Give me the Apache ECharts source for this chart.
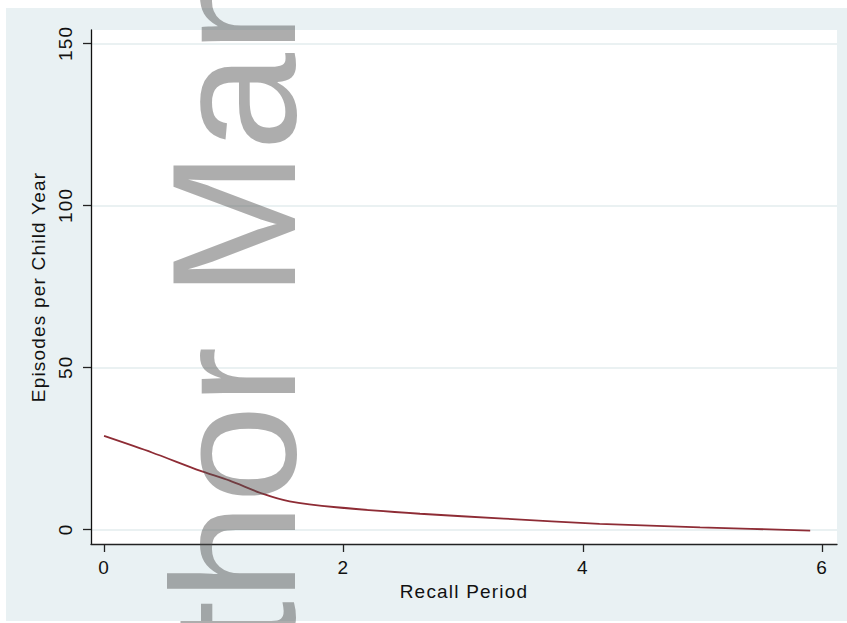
<!DOCTYPE html>
<html>
<head>
<meta charset="utf-8">
<script src="https://cdn.jsdelivr.net/npm/echarts@6/dist/echarts.min.js"></script>
<style>
  html, body { margin: 0; padding: 0; background: #ffffff; }
  #chart { position: absolute; left: 0; top: 0; width: 847px; height: 623px; }
  #chart text { letter-spacing: 1.2px; }
</style>
</head>
<body>
<div id="chart"></div>
<script>
// Recall period (x) and episodes per child year (y)
const recallPeriod = [0, 0.4, 0.8, 1.05, 1.33, 1.55, 1.94, 2.64, 3.34, 4.14, 4.98, 5.9];
const episodesPerChildYear = [28.8, 23.7, 18.1, 15.0, 10.9, 8.6, 6.8, 4.8, 3.3, 1.7, 0.6, -0.4];

const xTicks = [0, 2, 4, 6];
const yTicks = [0, 50, 100, 150];

const xTitle = 'Recall Period';
const yTitle = 'Episodes per Child Year';
const watermark = 'Author Manuscript';

const axisFont = "'Liberation Sans', Arial, sans-serif";
const bg = '#E9F1F3';
const gridColor = '#E3ECEE';

const chart = echarts.init(document.getElementById('chart'), null, { renderer: 'svg' });

chart.setOption({
  animation: false,
  backgroundColor: '#ffffff',
  graphic: [
    {
      type: 'rect',
      z: -10,
      silent: true,
      shape: { x: 6, y: 8, width: 841, height: 613 },
      style: { fill: bg }
    },
    {
      type: 'rect',
      z: -9,
      silent: true,
      shape: { x: 91, y: 30, width: 746, height: 514 },
      style: { fill: '#ffffff' }
    },
    {
      type: 'text',
      z: 100,
      silent: true,
      x: 234,
      y: 151,
      rotation: Math.PI / 2,
      style: {
        text: watermark,
        font: "176px 'Liberation Sans', Arial, sans-serif",
        fill: 'rgba(80,80,80,0.47)',
        align: 'center',
        verticalAlign: 'middle'
      }
    }
  ],
  grid: { left: 91, right: 10, top: 30, bottom: 79, containLabel: false },
  xAxis: {
    type: 'value',
    min: -0.109,
    max: 6.124,
    name: xTitle,
    nameLocation: 'middle',
    nameGap: 37,
    nameTextStyle: { fontFamily: axisFont, fontSize: 19, color: '#111' },
    axisLine: { show: true, onZero: false, lineStyle: { color: '#222', width: 1.3 } },
    axisTick: { show: true, customValues: xTicks, length: 8, lineStyle: { color: '#222', width: 1.3 } },
    axisLabel: { customValues: xTicks, margin: 14, fontFamily: axisFont, fontSize: 19, color: '#111' },
    splitLine: { show: false }
  },
  yAxis: {
    type: 'value',
    min: -4.54,
    max: 154.1,
    name: yTitle,
    nameLocation: 'middle',
    nameGap: 38,
    nameTextStyle: { fontFamily: axisFont, fontSize: 19, color: '#111' },
    axisLine: { show: true, onZero: false, lineStyle: { color: '#111', width: 1.3 } },
    axisTick: { show: true, customValues: yTicks, length: 8, lineStyle: { color: '#222', width: 1.3 } },
    axisLabel: { customValues: yTicks, rotate: 90, margin: 16, fontFamily: axisFont, fontSize: 19, color: '#111' },
    splitLine: { show: true, lineStyle: { color: gridColor, width: 1.5 } }
  },
  series: [
    {
      type: 'line',
      data: recallPeriod.map((x, i) => [x, episodesPerChildYear[i]]),
      showSymbol: false,
      smooth: 0.25,
      lineStyle: { color: '#8E2C35', width: 1.8 },
      silent: true
    }
  ]
});

// keep the watermark glyphs at their natural spacing
chart.getDom().querySelectorAll('text').forEach(t => {
  if (t.textContent === watermark) t.style.letterSpacing = '0px';
});
</script>
</body>
</html>
